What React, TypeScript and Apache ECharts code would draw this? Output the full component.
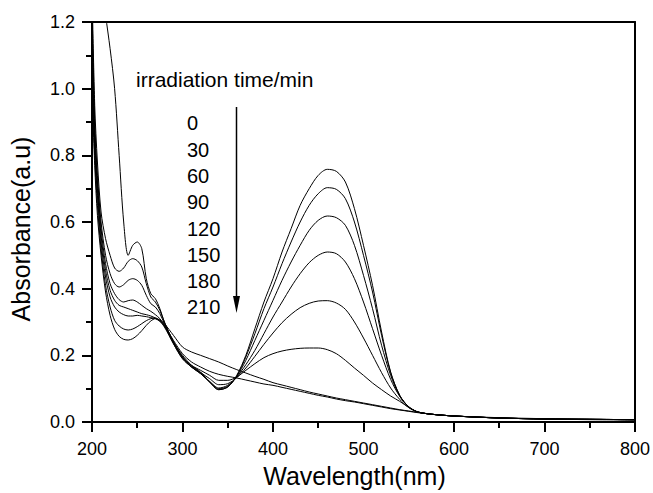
import React, { useEffect, useRef } from 'react';
import * as echarts from 'echarts';

const wavelengths = [200, 203, 206, 210, 215, 220, 225, 230, 235, 240, 245, 250, 255, 260, 265, 270, 275, 280, 290, 300, 310, 320, 330, 340, 350, 360, 370, 380, 390, 400, 410, 420, 430, 440, 450, 460, 470, 480, 490, 500, 510, 520, 530, 540, 550, 560, 570, 580, 600, 650, 700, 750, 800];

const times = ['0', '30', '60', '90', '120', '150', '180', '210'];

const abs0 = [1.6, 1.5, 1.42, 1.32, 1.22, 1.12, 1.0, 0.8, 0.6, 0.5, 0.53, 0.54, 0.52, 0.43, 0.385, 0.37, 0.34, 0.3, 0.24, 0.2, 0.17, 0.15, 0.12, 0.097, 0.105, 0.14, 0.2, 0.28, 0.36, 0.43, 0.51, 0.58, 0.65, 0.7, 0.74, 0.758, 0.752, 0.72, 0.64, 0.53, 0.41, 0.27, 0.15, 0.08, 0.045, 0.03, 0.025, 0.022, 0.018, 0.012, 0.009, 0.007, 0.006];
const abs30 = [1.3, 0.95, 0.78, 0.63, 0.55, 0.5, 0.462, 0.452, 0.462, 0.482, 0.49, 0.484, 0.465, 0.415, 0.375, 0.36, 0.335, 0.3, 0.24, 0.195, 0.168, 0.148, 0.12, 0.097, 0.105, 0.138, 0.195, 0.265, 0.34, 0.405, 0.475, 0.54, 0.6, 0.65, 0.685, 0.703, 0.698, 0.67, 0.6, 0.5, 0.39, 0.26, 0.148, 0.08, 0.045, 0.03, 0.025, 0.022, 0.018, 0.012, 0.009, 0.008, 0.007];
const abs60 = [1.25, 0.9, 0.74, 0.6, 0.5, 0.445, 0.415, 0.405, 0.412, 0.425, 0.43, 0.425, 0.41, 0.38, 0.355, 0.345, 0.325, 0.295, 0.24, 0.195, 0.165, 0.145, 0.12, 0.1, 0.107, 0.137, 0.185, 0.245, 0.305, 0.365, 0.425, 0.48, 0.53, 0.575, 0.605, 0.618, 0.613, 0.59, 0.53, 0.44, 0.34, 0.23, 0.14, 0.078, 0.045, 0.03, 0.025, 0.022, 0.018, 0.012, 0.009, 0.008, 0.007];
const abs90 = [1.2, 0.88, 0.72, 0.58, 0.475, 0.415, 0.385, 0.367, 0.36, 0.364, 0.366, 0.36, 0.35, 0.34, 0.332, 0.322, 0.31, 0.29, 0.235, 0.19, 0.165, 0.145, 0.122, 0.102, 0.11, 0.135, 0.172, 0.215, 0.265, 0.315, 0.36, 0.405, 0.445, 0.478, 0.5, 0.51, 0.505, 0.48, 0.43, 0.36, 0.28, 0.2, 0.128, 0.077, 0.046, 0.03, 0.025, 0.022, 0.018, 0.012, 0.009, 0.008, 0.007];
const abs120 = [1.15, 0.85, 0.7, 0.56, 0.455, 0.395, 0.365, 0.35, 0.345, 0.34, 0.335, 0.33, 0.325, 0.322, 0.318, 0.312, 0.303, 0.285, 0.235, 0.19, 0.165, 0.148, 0.13, 0.112, 0.115, 0.133, 0.162, 0.197, 0.233, 0.267, 0.298, 0.323, 0.343, 0.356, 0.363, 0.364, 0.357, 0.338, 0.3, 0.252, 0.2, 0.148, 0.102, 0.068, 0.043, 0.03, 0.025, 0.022, 0.018, 0.012, 0.009, 0.008, 0.007];
const abs150 = [1.1, 0.82, 0.68, 0.54, 0.435, 0.375, 0.345, 0.33, 0.322, 0.318, 0.318, 0.32, 0.318, 0.316, 0.313, 0.31, 0.302, 0.288, 0.24, 0.195, 0.17, 0.155, 0.14, 0.125, 0.125, 0.135, 0.155, 0.175, 0.193, 0.205, 0.213, 0.218, 0.221, 0.222, 0.222, 0.217, 0.205, 0.185, 0.162, 0.14, 0.117, 0.097, 0.078, 0.062, 0.044, 0.03, 0.025, 0.022, 0.018, 0.012, 0.009, 0.008, 0.007];
const abs180 = [1.05, 0.8, 0.65, 0.52, 0.41, 0.345, 0.305, 0.288, 0.279, 0.276, 0.279, 0.286, 0.295, 0.304, 0.31, 0.312, 0.305, 0.29, 0.245, 0.205, 0.18, 0.165, 0.152, 0.143, 0.137, 0.132, 0.126, 0.12, 0.114, 0.11, 0.104, 0.098, 0.092, 0.086, 0.08, 0.075, 0.069, 0.064, 0.06, 0.055, 0.05, 0.045, 0.04, 0.036, 0.032, 0.028, 0.025, 0.022, 0.018, 0.012, 0.009, 0.008, 0.007];
const abs210 = [1.0, 0.77, 0.62, 0.5, 0.39, 0.32, 0.278, 0.257, 0.248, 0.246, 0.25, 0.26, 0.274, 0.29, 0.303, 0.31, 0.306, 0.295, 0.26, 0.225, 0.21, 0.2, 0.19, 0.18, 0.168, 0.157, 0.147, 0.137, 0.128, 0.118, 0.111, 0.104, 0.097, 0.09, 0.084, 0.078, 0.072, 0.067, 0.062, 0.057, 0.052, 0.047, 0.042, 0.037, 0.033, 0.029, 0.025, 0.022, 0.018, 0.013, 0.01, 0.008, 0.007];

const allSeries = [abs0, abs30, abs60, abs90, abs120, abs150, abs180, abs210];

const legendTitle = 'irradiation time/min';

export default function App() {
  const ref = useRef<HTMLDivElement>(null);
  useEffect(() => {
    if (!ref.current) return;
    const chart = echarts.init(ref.current, null, { renderer: 'svg' });
    const font = '"Liberation Sans", Arial, Helvetica, sans-serif';
    const axisCommon = {
      axisLine: { show: true, lineStyle: { color: '#000', width: 2 } },
      axisTick: { show: true, inside: false, length: 10, lineStyle: { color: '#000', width: 2 } },
      minorTick: { show: true, splitNumber: 2, length: 6, lineStyle: { color: '#000', width: 2 } },
      splitLine: { show: false },
      minorSplitLine: { show: false },
      nameLocation: 'middle' as const,
    };
    const frameAxis = {
      type: 'value' as const,
      axisLine: { show: true, onZero: false, lineStyle: { color: '#000', width: 2 } },
      axisTick: { show: false },
      axisLabel: { show: false },
      splitLine: { show: false },
    };
    const graphic: any[] = [
      {
        type: 'text',
        left: 136,
        top: 69,
        style: { text: legendTitle, fontFamily: font, fontSize: 21, fill: '#000' },
      },
      {
        type: 'line',
        shape: { x1: 236.5, y1: 107, x2: 236.5, y2: 300 },
        style: { stroke: '#000', lineWidth: 1.5 },
      },
      {
        type: 'polygon',
        shape: { points: [[233, 296], [240, 296], [236.5, 313]] },
        style: { fill: '#000' },
      },
    ];
    times.forEach((t, i) => {
      graphic.push({
        type: 'text',
        x: 187,
        y: 123.3 + i * 26.3,
        style: { text: t, fontFamily: font, fontSize: 20, fill: '#000', verticalAlign: 'middle', align: 'left' },
      });
    });
    chart.setOption({
      animation: false,
      backgroundColor: '#fff',
      grid: { left: 90, top: 22, right: 15, bottom: 69 },
      xAxis: [
        {
          type: 'value',
          min: 200,
          max: 800,
          interval: 100,
          name: 'Wavelength(nm)',
          nameGap: 41,
          nameTextStyle: { fontFamily: font, fontSize: 25, color: '#000', padding: [0, 18, 0, 0] },
          ...axisCommon,
          axisLabel: { fontFamily: font, fontSize: 18, color: '#000', margin: 18 },
        },
        { ...frameAxis, position: 'top', min: 200, max: 800 },
      ],
      yAxis: [
        {
          type: 'value',
          min: 0,
          max: 1.2,
          interval: 0.2,
          name: 'Absorbance(a.u)',
          nameGap: 59,
          nameTextStyle: { fontFamily: font, fontSize: 25, color: '#000', padding: [0, 14, 0, 0] },
          ...axisCommon,
          axisLabel: { fontFamily: font, fontSize: 18, color: '#000', margin: 17, formatter: (v: number) => v.toFixed(1) },
        },
        { ...frameAxis, position: 'right', min: 0, max: 1.2 },
      ],
      series: allSeries.map((vals, i) => ({
        type: 'line',
        name: times[i],
        xAxisIndex: 0,
        yAxisIndex: 0,
        data: wavelengths.map((w, j) => [w, vals[j]]),
        symbol: 'none',
        showSymbol: false,
        smooth: 0.3,
        clip: true,
        silent: true,
        lineStyle: { color: '#000', width: 1 },
      })),
      graphic,
    });
    return () => chart.dispose();
  }, []);
  return <div ref={ref} style={{ position: 'fixed', left: 0, top: 0, width: 653, height: 493, background: '#fff' }} />;
}
